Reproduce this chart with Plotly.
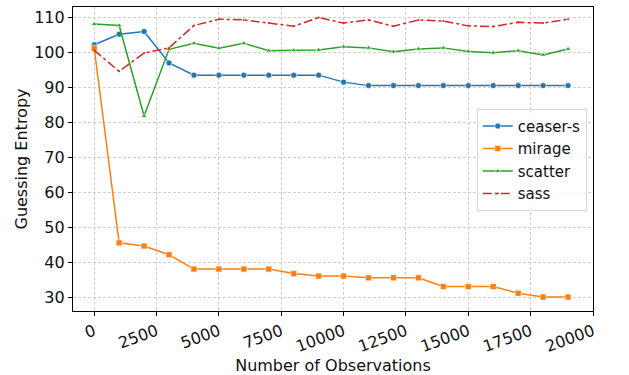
import plotly.graph_objects as go

observations = [0, 1000, 2000, 3000, 4000, 5000, 6000, 7000, 8000, 9000,
                10000, 11000, 12000, 13000, 14000, 15000, 16000, 17000, 18000, 19000]
ceaser_s = [102.2, 105.2, 106.0, 97.0, 93.5, 93.5, 93.5, 93.5, 93.5, 93.5,
            91.5, 90.5, 90.5, 90.5, 90.5, 90.5, 90.5, 90.5, 90.5, 90.5]
mirage = [101.2, 45.5, 44.6, 42.1, 38.0, 38.0, 38.0, 38.0, 36.7, 36.0,
          36.0, 35.5, 35.5, 35.5, 33.0, 33.0, 33.0, 31.1, 30.0, 30.0]
scatter = [108.1, 107.7, 81.8, 100.9, 102.6, 101.2, 102.6, 100.5, 100.6, 100.7,
           101.6, 101.3, 100.2, 101.0, 101.3, 100.3, 99.9, 100.5, 99.3, 101.0]
sass = [100.6, 94.6, 99.8, 101.3, 107.7, 109.5, 109.3, 108.4, 107.5, 110.0,
        108.4, 109.3, 107.5, 109.3, 109.0, 107.6, 107.4, 108.6, 108.4, 109.5]

x_ticks = [0, 2500, 5000, 7500, 10000, 12500, 15000, 17500, 20000]
y_ticks = [30, 40, 50, 60, 70, 80, 90, 100, 110]

series = [
    ("ceaser-s", ceaser_s, "#1f77b4", "circle", 6, "solid"),
    ("mirage", mirage, "#ff7f0e", "square", 6, "solid"),
    ("scatter", scatter, "#2ca02c", "triangle-up", 5, "solid"),
    ("sass", sass, "#d62728", "circle", 2, "dashdot"),
]

fig = go.Figure()
for name, vals, color, sym, size, dash in series:
    fig.add_trace(go.Scatter(
        x=observations, y=vals, name=name, mode="lines+markers",
        line=dict(color=color, width=1.5, dash=dash),
        marker=dict(symbol=sym, size=size, color=color,
                    line=dict(color="white", width=0.6 if size > 2 else 0)),
    ))

axis_common = dict(
    showline=True, linecolor="black", linewidth=1.2, mirror=True,
    showgrid=True, gridcolor="#cfcfcf", griddash="3px,2px", gridwidth=0.8,
    ticks="outside", ticklen=4, tickcolor="black",
    zeroline=False,
    tickfont=dict(family="DejaVu Sans", size=16, color="#111111"),
)

fig.update_layout(
    width=629, height=375,
    margin=dict(l=73, r=36, t=6, b=62),
    paper_bgcolor="white", plot_bgcolor="white",
    font=dict(family="DejaVu Sans", size=15, color="#111111"),
    xaxis=dict(range=[-850, 20000], tickvals=x_ticks, ticktext=[str(v) for v in x_ticks],
               tickangle=-20,
               title=dict(text="Number of Observations", font=dict(size=16), standoff=2),
               **axis_common),
    yaxis=dict(range=[26, 113], tickvals=y_ticks, ticktext=[str(v) for v in y_ticks],
               title=dict(text="Guessing Entropy", font=dict(size=16), standoff=2),
               **axis_common),
    legend=dict(x=0.988, y=0.665, xanchor="right", yanchor="top",
                bgcolor="rgba(255,255,255,0.85)", bordercolor="#d8d8d8", borderwidth=1,
                font=dict(size=15), tracegroupgap=0, itemwidth=30),
    showlegend=True,
)

fig.write_html("out.html")
